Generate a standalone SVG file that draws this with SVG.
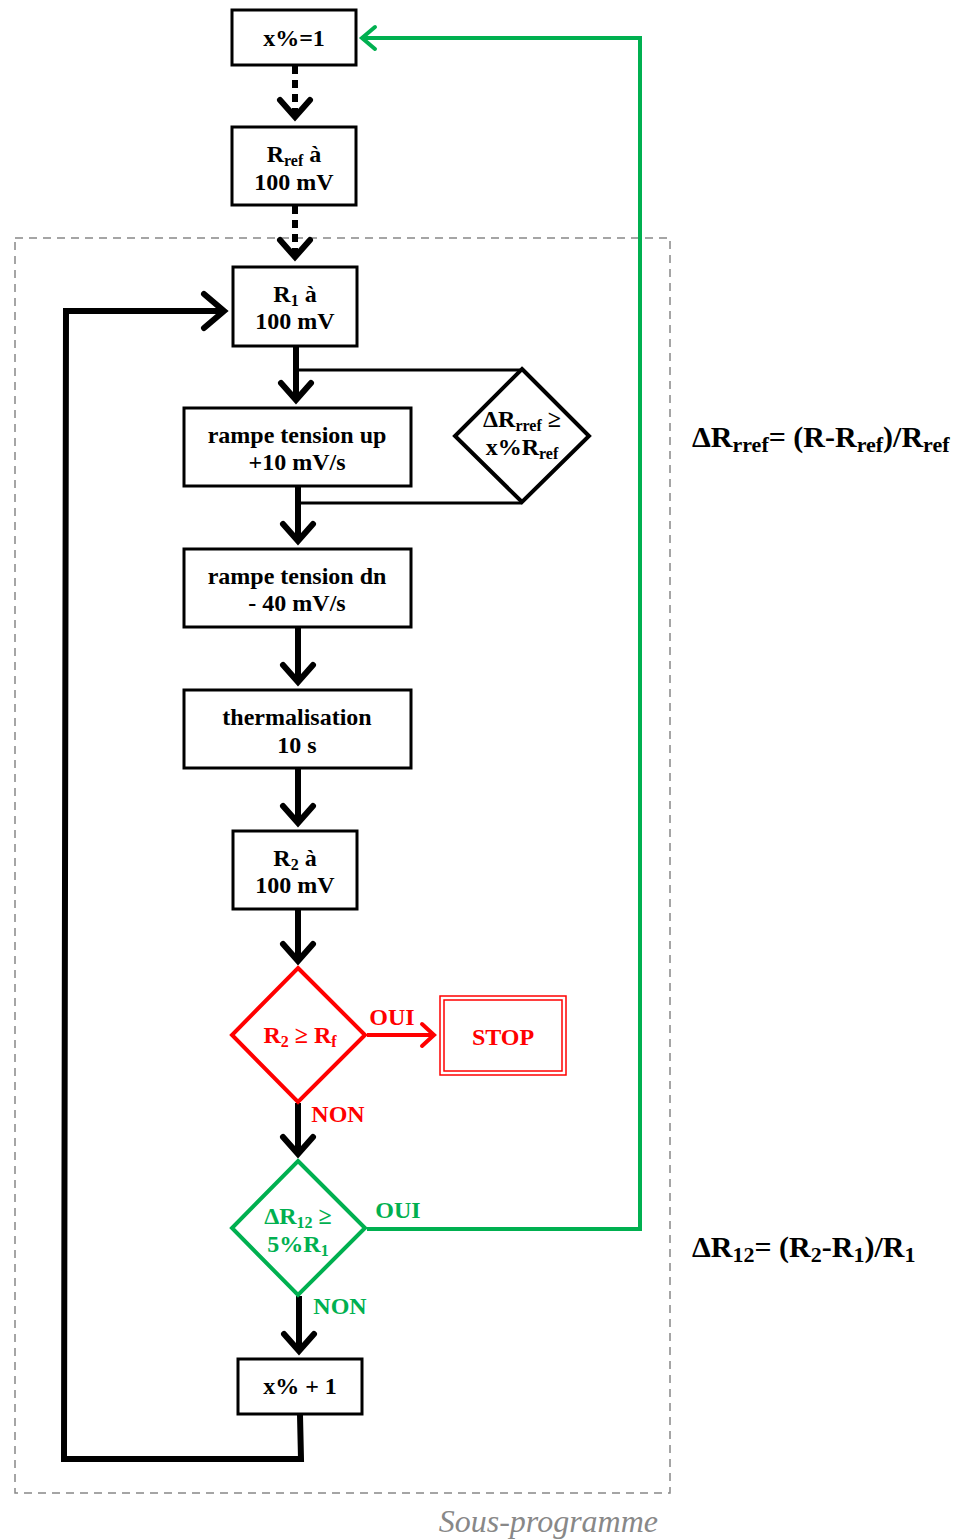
<svg xmlns="http://www.w3.org/2000/svg" width="972" height="1540" viewBox="0 0 972 1540">
<style>
.box{fill:#fff;stroke:#000;stroke-width:3}
.t{font-family:"Liberation Serif","Times New Roman",serif;font-weight:bold;font-size:24px;text-anchor:middle;fill:#000}
.s{font-size:16px}
.red{fill:#ff0000}
.grn{fill:#00b050}
.blk{fill:none;stroke:#000;stroke-width:6}
.thin{fill:none;stroke:#000;stroke-width:3}
.f{text-anchor:start;font-size:30px}
.fs{font-size:22px}
</style>
<defs>
<marker id="ab" markerUnits="userSpaceOnUse" viewBox="-30 -25 40 50" markerWidth="40" markerHeight="50" refX="0" refY="0" orient="auto" overflow="visible">
<path d="M-17,-15 L0,0 L-17,15" fill="none" stroke="#000" stroke-width="6" stroke-linecap="round"/>
</marker>
<marker id="abL" markerUnits="userSpaceOnUse" viewBox="-30 -25 40 50" markerWidth="40" markerHeight="50" refX="0" refY="0" orient="auto" overflow="visible">
<path d="M-20,-17 L0,0 L-20,17" fill="none" stroke="#000" stroke-width="6" stroke-linecap="round"/>
</marker>
<marker id="ar" markerUnits="userSpaceOnUse" viewBox="-30 -25 40 50" markerWidth="40" markerHeight="50" refX="0" refY="0" orient="auto" overflow="visible">
<path d="M-12,-11 L0,0 L-12,11" fill="none" stroke="#ff0000" stroke-width="4" stroke-linecap="round"/>
</marker>
<marker id="ag" markerUnits="userSpaceOnUse" viewBox="-30 -25 40 50" markerWidth="40" markerHeight="50" refX="0" refY="0" orient="auto" overflow="visible">
<path d="M-13,-11 L0,0 L-13,11" fill="none" stroke="#00b050" stroke-width="4" stroke-linecap="round"/>
</marker>
</defs>
<rect width="972" height="1540" fill="#fff"/>

<g id="subprogram">
<rect x="15" y="238" width="655" height="1255" fill="none" stroke="#888" stroke-width="1.5" stroke-dasharray="8,6"/>
<text x="658" y="1532" font-family="Liberation Serif, Times New Roman, serif" font-style="italic" font-size="32" fill="#888" text-anchor="end">Sous-programme</text>
</g>

<g id="connectors">
<path d="M295,66 L295,117" class="blk" stroke-dasharray="8,6" marker-end="url(#ab)"/>
<path d="M295,206 L295,257" class="blk" stroke-dasharray="8,6" marker-end="url(#ab)"/>
<path d="M296,347 L296,400" class="blk" marker-end="url(#ab)"/>
<path d="M296,370 L522,370" class="thin"/>
<path d="M298,487 L298,541" class="blk" marker-end="url(#ab)"/>
<path d="M298,503 L522,503" class="thin"/>
<path d="M298,628 L298,682" class="blk" marker-end="url(#ab)"/>
<path d="M298,769 L298,823" class="blk" marker-end="url(#ab)"/>
<path d="M298,910 L298,961" class="blk" marker-end="url(#ab)"/>
<path d="M298,1103 L298,1154" class="blk" marker-end="url(#ab)"/>
<path d="M299,1296 L299,1351" class="blk" marker-end="url(#ab)"/>
<path d="M300,1415 L301,1459 L64,1459 L66,311 L224,311" class="blk" marker-end="url(#abL)"/>
<path d="M367,1035 L434,1035" fill="none" stroke="#ff0000" stroke-width="4" marker-end="url(#ar)"/>
<path d="M367,1229 L640,1229 L640,38 L362,38" fill="none" stroke="#00b050" stroke-width="4" marker-end="url(#ag)"/>
<text x="392" y="1025" class="t red">OUI</text>
<text x="338" y="1122" class="t red">NON</text>
<text x="398" y="1218" class="t grn">OUI</text>
<text x="340" y="1314" class="t grn">NON</text>
</g>

<g id="n-x1">
<rect x="232" y="10" width="124" height="55" class="box"/>
<text x="294" y="46" class="t">x%=1</text>
</g>
<g id="n-rref">
<rect x="232" y="127" width="124" height="78" class="box"/>
<text x="294" y="162" class="t">R<tspan class="s" dy="4">ref</tspan><tspan dy="-4"> à</tspan></text>
<text x="294" y="190" class="t">100 mV</text>
</g>
<g id="n-r1">
<rect x="233" y="267" width="124" height="79" class="box"/>
<text x="295" y="302" class="t">R<tspan class="s" dy="4">1</tspan><tspan dy="-4"> à</tspan></text>
<text x="295" y="329" class="t">100 mV</text>
</g>
<g id="n-up">
<rect x="184" y="408" width="227" height="78" class="box"/>
<text x="297" y="443" class="t">rampe tension up</text>
<text x="297" y="470" class="t">+10 mV/s</text>
</g>
<g id="n-drref">
<path d="M522,369 L589,436 L522,502 L455,436 Z" fill="#fff" stroke="#000" stroke-width="4" stroke-linejoin="miter"/>
<text x="522" y="427" class="t">ΔR<tspan class="s" dy="4">rref</tspan><tspan dy="-4"> ≥</tspan></text>
<text x="522" y="455" class="t">x%R<tspan class="s" dy="4">ref</tspan></text>
</g>
<g id="n-dn">
<rect x="184" y="549" width="227" height="78" class="box"/>
<text x="297" y="584" class="t">rampe tension dn</text>
<text x="297" y="611" class="t">- 40 mV/s</text>
</g>
<g id="n-therm">
<rect x="184" y="690" width="227" height="78" class="box"/>
<text x="297" y="725" class="t">thermalisation</text>
<text x="297" y="753" class="t">10 s</text>
</g>
<g id="n-r2">
<rect x="233" y="831" width="124" height="78" class="box"/>
<text x="295" y="866" class="t">R<tspan class="s" dy="4">2</tspan><tspan dy="-4"> à</tspan></text>
<text x="295" y="893" class="t">100 mV</text>
</g>
<g id="n-r2rf">
<path d="M298,968 L365,1035 L298,1102 L232,1035 Z" fill="#fff" stroke="#ff0000" stroke-width="4"/>
<text x="300" y="1043" class="t red">R<tspan class="s" dy="4">2</tspan><tspan dy="-4"> ≥ R</tspan><tspan class="s" dy="4">f</tspan></text>
</g>
<g id="n-stop">
<rect x="440" y="996" width="126" height="79" fill="#fff" stroke="#ff0000" stroke-width="1.5"/>
<rect x="444" y="1000" width="118" height="71" fill="none" stroke="#ff0000" stroke-width="1.5"/>
<text x="503" y="1045" class="t red">STOP</text>
</g>
<g id="n-dr12">
<path d="M298,1161 L365,1228 L298,1295 L232,1228 Z" fill="#fff" stroke="#00b050" stroke-width="4"/>
<text x="298" y="1224" class="t grn">ΔR<tspan class="s" dy="4">12</tspan><tspan dy="-4"> ≥</tspan></text>
<text x="298" y="1252" class="t grn">5%R<tspan class="s" dy="4">1</tspan></text>
</g>
<g id="n-xp1">
<rect x="238" y="1359" width="124" height="55" class="box"/>
<text x="300" y="1394" class="t">x% + 1</text>
</g>

<g id="formulas">
<text x="692" y="447" class="t f">ΔR<tspan class="fs" dy="5">rref</tspan><tspan dy="-5">= (R-R</tspan><tspan class="fs" dy="5">ref</tspan><tspan dy="-5">)/R</tspan><tspan class="fs" dy="5">ref</tspan></text>
<text x="692" y="1257" class="t f">ΔR<tspan class="fs" dy="5">12</tspan><tspan dy="-5">= (R</tspan><tspan class="fs" dy="5">2</tspan><tspan dy="-5">-R</tspan><tspan class="fs" dy="5">1</tspan><tspan dy="-5">)/R</tspan><tspan class="fs" dy="5">1</tspan></text>
</g>
</svg>
